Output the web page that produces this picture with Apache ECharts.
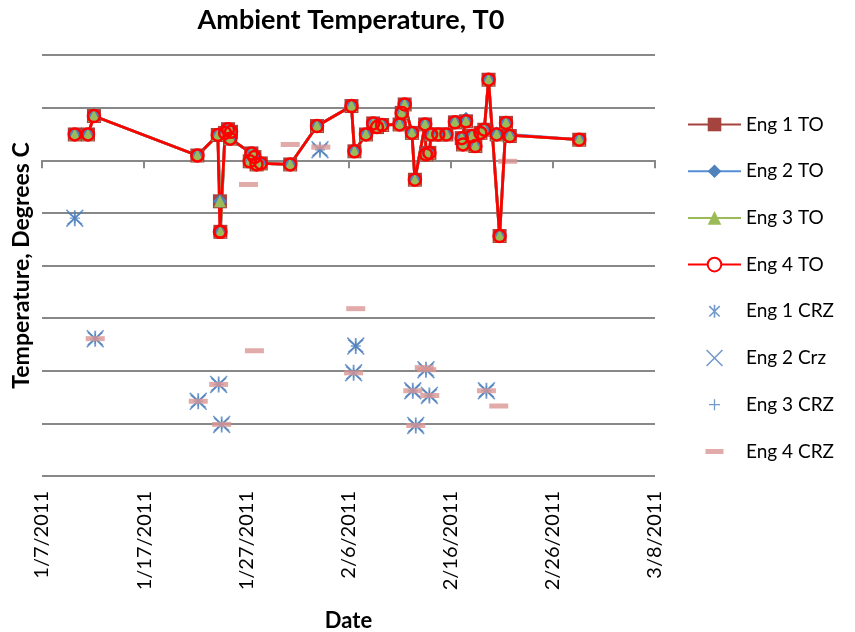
<!DOCTYPE html>
<html>
<head>
<meta charset="utf-8">
<script src="https://cdn.jsdelivr.net/npm/echarts@6/dist/echarts.min.js"></script>
<style>
  html, body { margin: 0; padding: 0; background: #fff; }
  #chart { width: 855px; height: 632px; }
</style>
</head>
<body>
<div id="chart"></div>
<script>
// ---- Take-off readings (one row per flight, all four engines) ----
const toDates = [
  '1/10/2011 5:00', '1/11/2011 12:00', '1/12/2011 2:00', '1/22/2011 5:00', '1/24/2011 5:00',
  '1/24/2011 10:00', '1/24/2011 11:00', '1/24/2011 22:00', '1/25/2011 5:00', '1/25/2011 12:00',
  '1/25/2011 10:00', '1/27/2011 12:00', '1/27/2011 19:00', '1/27/2011 8:00', '1/28/2011 0:00',
  '1/28/2011 10:00', '1/31/2011 7:00', '2/2/2011 22:00', '2/6/2011 7:00', '2/6/2011 14:00',
  '2/7/2011 17:00', '2/8/2011 10:00', '2/8/2011 19:00', '2/9/2011 7:00', '2/11/2011 0:00',
  '2/11/2011 5:00', '2/11/2011 12:00', '2/12/2011 5:00', '2/12/2011 12:00', '2/13/2011 12:00',
  '2/13/2011 14:00', '2/13/2011 22:00', '2/14/2011 2:00', '2/14/2011 19:00', '2/15/2011 14:00',
  '2/16/2011 10:00', '2/17/2011 12:00', '2/17/2011 2:00', '2/17/2011 5:00', '2/18/2011 2:00',
  '2/18/2011 10:00', '2/18/2011 22:00', '2/19/2011 7:00', '2/19/2011 17:00', '2/20/2011 19:00',
  '2/21/2011 10:00', '2/21/2011 19:00', '2/20/2011 12:00', '2/28/2011 14:00'
];
const eng1TO = [
  4.9, 4.9, 8.4, 0.9, 4.8, -7.8, -13.6, 5.2, 5.9, 5.4,
  4.1, 1.3, 0.6, -0.2, -0.8, -0.6, -0.8, 6.5, 10.3, 1.7,
  4.9, 7.0, 6.3, 6.7, 6.8, 9.0, 10.6, 5.2, -3.7, 6.8,
  1.1, 1.4, 4.9, 4.9, 4.9, 7.2, 7.4, 4.2, 3.0, 4.6,
  2.7, 5.2, 5.8, 15.3, -14.4, 7.1, 4.6, 4.9, 3.9
];
const eng2TO = [
  4.9, 4.9, 8.4, 0.9, 4.8, -7.8, -13.6, 5.2, 5.9, 5.4,
  4.1, 1.3, 0.6, -0.2, -0.8, -0.6, -0.8, 6.5, 10.3, 1.7,
  4.9, 7.0, 6.3, 6.7, 6.8, 9.0, 10.6, 5.2, -3.7, 6.8,
  1.1, 1.4, 4.9, 4.9, 4.9, 7.2, 7.9, 4.2, 3.0, 4.6,
  2.7, 5.2, 5.8, 15.3, -14.4, 7.1, 4.6, 5.1, 3.9
];
const eng3TO = [
  4.9, 4.9, 8.4, 0.9, 4.8, -7.8, -13.6, 5.2, 5.9, 5.4,
  4.1, 1.3, 0.6, -0.2, -0.8, -0.6, -0.8, 6.5, 10.3, 1.7,
  4.9, 7.0, 6.3, 6.7, 6.8, 9.0, 10.6, 5.2, -3.7, 6.8,
  1.1, 1.4, 4.9, 4.9, 4.9, 7.2, 7.4, 4.2, 3.0, 4.6,
  2.7, 5.2, 5.8, 15.3, -14.4, 7.1, 4.6, 4.9, 3.9
];
const eng4TO = [
  4.9, 4.9, 8.4, 0.9, 4.8, -13.6, -13.6, 5.2, 5.9, 5.4,
  4.1, 1.3, 0.6, -0.2, -0.8, -0.6, -0.8, 6.5, 10.3, 1.7,
  4.9, 7.0, 6.3, 6.7, 6.8, 9.0, 10.6, 5.2, -3.7, 6.8,
  1.1, 1.4, 4.9, 4.9, 4.9, 7.2, 7.4, 4.2, 3.0, 4.6,
  2.7, 5.2, 5.8, 15.3, -14.4, 7.1, 4.6, 4.9, 3.9
];

// ---- Cruise readings, engines 1-3 ----
const crzDates = [
  '1/10/2011 5:00', '1/12/2011 5:00', '1/22/2011 7:00', '1/24/2011 7:00', '1/24/2011 14:00',
  '2/3/2011 5:00', '2/6/2011 12:00', '2/6/2011 17:00', '2/12/2011 7:00', '2/12/2011 14:00',
  '2/13/2011 14:00', '2/13/2011 22:00', '2/19/2011 12:00'
];
const eng1CRZ = [-11.0, -33.9, -45.8, -42.6, -50.2, 2.0, -40.4, -35.3, -43.8, -50.4, -39.8, -44.7, -43.8];
const eng2CRZ = [-11.0, -33.9, -45.8, -42.6, -50.2, 2.0, -40.4, -35.3, -43.8, -50.4, -39.8, -44.7, -43.8];
const eng3CRZ = [-11.0, -33.9, -45.8, -42.6, -50.2, 2.0, -40.4, -35.3, -43.8, -50.4, -39.8, -44.7, -43.8];

// ---- Cruise readings, engine 4 ----
const eng4CRZDates = [
  '1/12/2011 5:00', '1/22/2011 7:00', '1/24/2011 7:00', '1/24/2011 14:00', '1/27/2011 5:00',
  '1/27/2011 19:00', '1/31/2011 7:00', '2/3/2011 7:00', '2/6/2011 17:00', '2/6/2011 12:00',
  '2/12/2011 7:00', '2/12/2011 14:00', '2/13/2011 10:00', '2/13/2011 16:00', '2/13/2011 23:00',
  '2/19/2011 12:00', '2/20/2011 17:00', '2/21/2011 14:00'
];
const eng4CRZ = [
  -33.9, -45.8, -42.6, -50.2, -4.6, -36.2, 3.0, 2.5, -28.2, -40.4,
  -43.8, -50.4, -39.4, -39.8, -44.7, -43.8, -46.7, -0.2
];

const xTickLabels = ['1/7/2011', '1/17/2011', '1/27/2011', '2/6/2011', '2/16/2011', '2/26/2011', '3/8/2011'];

const FONT = 'Lato';
const START = Date.UTC(2011, 0, 7);

// days elapsed since 1/7/2011 for a "M/D/YYYY H:mm" stamp
function dayOf(s) {
  const parts = s.split(' ');
  const [m, d, y] = parts[0].split('/').map(Number);
  const [h, mi] = (parts[1] || '0:00').split(':').map(Number);
  return (Date.UTC(y, m - 1, d, h, mi) - START) / 86400000;
}
function pairs(dates, vals) { return dates.map((d, i) => [dayOf(d), vals[i]]); }

// filled outline made of thick strokes (all wound the same way)
function strokes(segs, t, cx, cy, s) {
  return segs.map(([x1, y1, x2, y2]) => {
    const ax = cx + x1 * s, ay = cy + y1 * s, bx = cx + x2 * s, by = cy + y2 * s;
    const len = Math.hypot(bx - ax, by - ay);
    const nx = -(by - ay) / len * t / 2, ny = (bx - ax) / len * t / 2;
    const f = v => v.toFixed(3);
    return `M${f(ax + nx)},${f(ay + ny)} L${f(bx + nx)},${f(by + ny)} L${f(bx - nx)},${f(by - ny)} L${f(ax - nx)},${f(ay - ny)} Z`;
  }).join(' ');
}
const SEG_X = [[-1, -1, 1, 1], [-1, 1, 1, -1]];
const SEG_STAR = [[-0.8, -0.8, 0.8, 0.8], [-0.8, 0.8, 0.8, -0.8], [0, -1, 0, 1]];
const SEG_PLUS = [[-1, 0, 1, 0], [0, -1, 0, 1]];

const LW = 53, LH = 17;
// legend icons keep their own box so the glyph stays small inside it
function framed(inner) {
  return `path://M0,0 L0.01,0 L0,0.01 Z M${LW},${LH} L${LW - 0.01},${LH} L${LW},${LH - 0.01} Z ` + inner;
}
const cx = LW / 2, cy = LH / 2;

const C_E1 = '#A5433F', C_E2 = '#4F81BD', C_E3 = '#9BBB59', C_E4 = '#FF0000', C_DASH = '#D99694';

function toSeries(name, vals, symbol, size, style, lineColor) {
  return {
    name, type: 'line', data: pairs(toDates, vals),
    symbol, symbolSize: size, showSymbol: true, showAllSymbol: true,
    lineStyle: { color: lineColor, width: 2.8 },
    itemStyle: style,
    emphasis: { disabled: true }
  };
}
function crzSeries(name, dates, vals, symbol, size, color) {
  return {
    name, type: 'scatter', data: pairs(dates, vals),
    symbol, symbolSize: size, itemStyle: { color, borderWidth: 0 },
    emphasis: { disabled: true }
  };
}

const chart = echarts.init(document.getElementById('chart'));
chart.setOption({
  animation: false,
  backgroundColor: '#fff',
  textStyle: { fontFamily: FONT },
  title: {
    text: 'Ambient Temperature, T0',
    left: 346, top: 2, textAlign: 'center',
    textStyle: { fontFamily: FONT, fontSize: 27, fontWeight: 'bold', color: '#000' }
  },
  grid: { left: 42, right: 200, top: 55, bottom: 156, outerBoundsMode: 'none' },
  xAxis: [
    {
      type: 'value', min: 0, max: 60, interval: 10, position: 'bottom',
      name: 'Date', nameLocation: 'middle', nameGap: 134,
      nameTextStyle: { fontFamily: FONT, fontSize: 22, fontWeight: 'bold', color: '#000' },
      axisLine: { show: false, onZero: false }, axisTick: { show: false }, splitLine: { show: false },
      axisLabel: {
        rotate: 90, margin: 15, fontFamily: FONT, fontSize: 20, color: '#000',
        formatter: v => xTickLabels[Math.round(v / 10)]
      }
    },
    {
      type: 'value', min: 0, max: 60, interval: 10, position: 'top',
      axisLine: { show: true, onZero: true, lineStyle: { color: '#888', width: 2 } },
      axisTick: { show: true, inside: true, length: 8, lineStyle: { color: '#888', width: 2 } },
      axisLabel: { show: false }, splitLine: { show: false }
    }
  ],
  yAxis: {
    type: 'value', min: -60, max: 20, interval: 10,
    name: 'Temperature, Degrees C', nameLocation: 'middle', nameGap: 9,
    nameTextStyle: { fontFamily: FONT, fontSize: 23, fontWeight: 'bold', color: '#000' },
    axisLine: { show: false }, axisTick: { show: false }, axisLabel: { show: false },
    splitLine: { show: true, lineStyle: { color: '#888', width: 2 } }
  },
  legend: {
    orient: 'vertical', left: 682, top: 110,
    itemWidth: LW, itemHeight: LH, itemGap: 27.7,
    textStyle: { fontFamily: FONT, fontSize: 19, color: '#000', lineHeight: LH },
    data: [
      { name: 'Eng 1 TO' },
      { name: 'Eng 2 TO' },
      { name: 'Eng 3 TO' },
      { name: 'Eng 4 TO', itemStyle: { color: '#fff', borderColor: C_E4, borderWidth: 2 } },
      { name: 'Eng 1 CRZ', icon: framed(strokes(SEG_STAR, 1.6, cx, cy, 6.5)) },
      { name: 'Eng 2 Crz', icon: framed(strokes(SEG_X, 1.6, cx, cy, 8)) },
      { name: 'Eng 3 CRZ', icon: framed(strokes(SEG_PLUS, 1.3, cx, cy, 5.5)) },
      { name: 'Eng 4 CRZ', icon: framed(`M${cx - 9},${cy - 2.5} L${cx + 9},${cy - 2.5} L${cx + 9},${cy + 2.5} L${cx - 9},${cy + 2.5} Z`) }
    ]
  },
  series: [
    toSeries('Eng 1 TO', eng1TO, 'rect', 14, { color: C_E1 }, C_E1),
    toSeries('Eng 2 TO', eng2TO, 'diamond', 14, { color: C_E2 }, '#558ED5'),
    toSeries('Eng 3 TO', eng3TO, 'triangle', 12, { color: C_E3 }, C_E3),
    toSeries('Eng 4 TO', eng4TO, 'circle', 12, { color: 'rgba(0,0,0,0)', borderColor: C_E4, borderWidth: 2.5 }, C_E4),
    crzSeries('Eng 1 CRZ', crzDates, eng1CRZ, 'path://' + strokes(SEG_STAR, 0.2, 0, 0, 1), 16, C_E2),
    crzSeries('Eng 2 Crz', crzDates, eng2CRZ, 'path://' + strokes(SEG_X, 0.19, 0, 0, 1), 18, C_E2),
    crzSeries('Eng 3 CRZ', crzDates, eng3CRZ, 'path://' + strokes(SEG_PLUS, 0.26, 0, 0, 1), 10, C_E2),
    crzSeries('Eng 4 CRZ', eng4CRZDates, eng4CRZ, 'rect', [19, 5], C_DASH)
  ]
});
</script>
</body>
</html>
